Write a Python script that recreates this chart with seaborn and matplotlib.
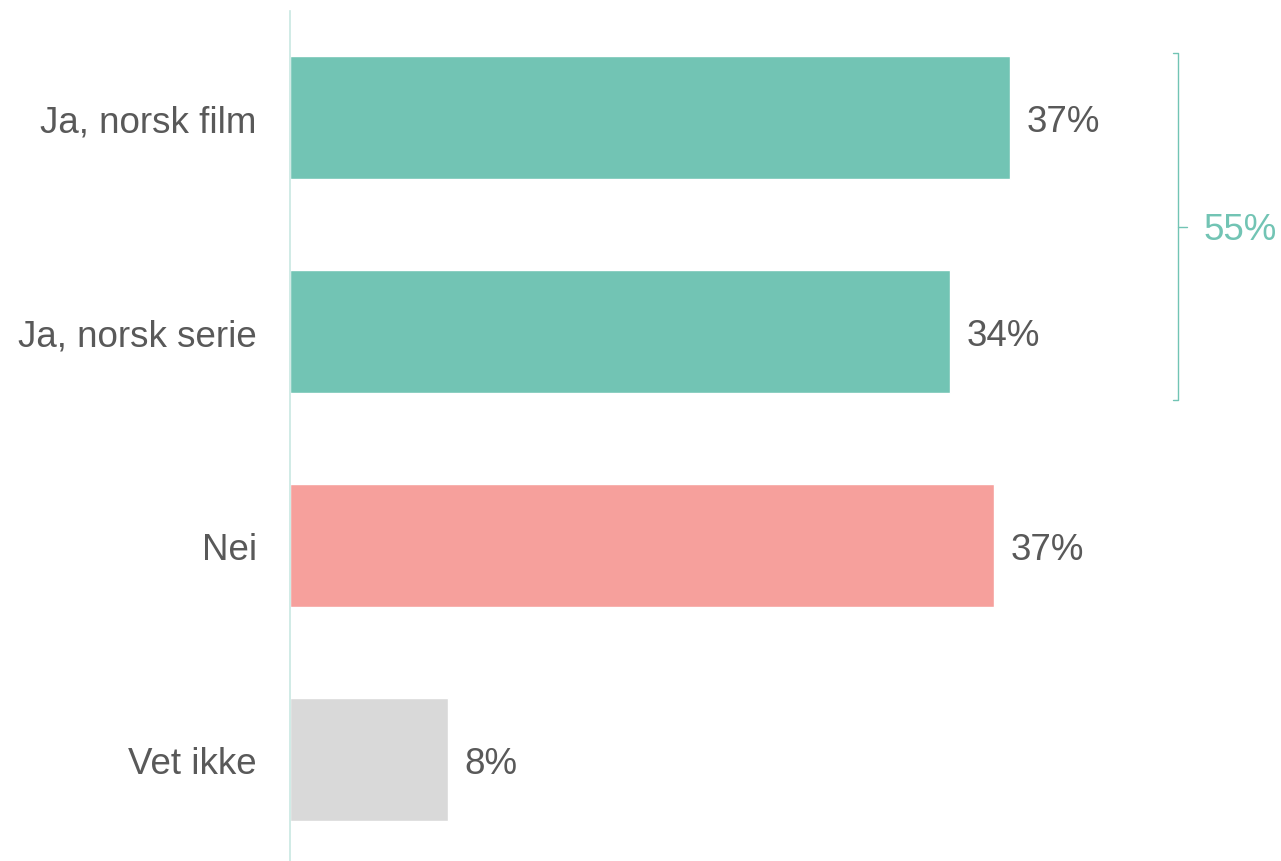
import matplotlib
matplotlib.use("Agg")
import matplotlib.pyplot as plt
import seaborn as sns
import pandas as pd

# === Data ===
categories = ["Ja, norsk film", "Ja, norsk serie", "Nei", "Vet ikke"]
values = [37.0, 33.9, 36.2, 8.1]
value_labels = ["37%", "34%", "37%", "8%"]
bar_colors = ["#72C4B4", "#72C4B4", "#F6A09C", "#D9D9D9"]
bracket_label = "55%"

TEXT = "#595959"
TEAL = "#72C4B4"
FS = 26.5

sns.set_style("white")
plt.rcParams["font.family"] = ["Liberation Sans", "DejaVu Sans"]

df = pd.DataFrame({"kategori": categories, "andel": values})

fig = plt.figure(figsize=(12.81, 8.62), dpi=100)
ax = fig.add_axes([290 / 1281, 0, 991 / 1281, 850 / 862])

sns.barplot(data=df, x="andel", y="kategori", hue="kategori",
            palette=bar_colors, width=0.575, legend=False, ax=ax,
            saturation=1)

ax.set_xlim(0, 991 / 19.46)
ax.set_ylim(3.474, -0.498)
ax.set_xlabel("")
ax.set_ylabel("")
ax.set_xticks([])
ax.tick_params(axis="y", length=0, pad=24, labelsize=FS, labelcolor=TEXT)

for s in ["top", "right", "bottom"]:
    ax.spines[s].set_visible(False)
ax.spines["left"].set_color("#C8E8E2")
ax.spines["left"].set_linewidth(1.2)

# value labels
for i, (v, lab) in enumerate(zip(values, value_labels)):
    ax.annotate(lab, (v, i), xytext=(12, -3), textcoords="offset points",
                ha="left", va="center", fontsize=FS, color=TEXT)

# bracket for "Ja" total
bx = 45.65
y_top, y_bot, y_mid = -0.30, 1.32, 0.51
ax.plot([bx - 0.3, bx, bx, bx - 0.3], [y_top, y_top, y_bot, y_bot],
        color=TEAL, lw=1, clip_on=False)
ax.plot([bx, bx + 0.45], [y_mid, y_mid], color=TEAL, lw=1, clip_on=False)
ax.annotate(bracket_label, (bx, y_mid), xytext=(18, -2),
            textcoords="offset points", ha="left", va="center",
            fontsize=FS, color=TEAL, annotation_clip=False)

fig.savefig("out.png", dpi=100)
